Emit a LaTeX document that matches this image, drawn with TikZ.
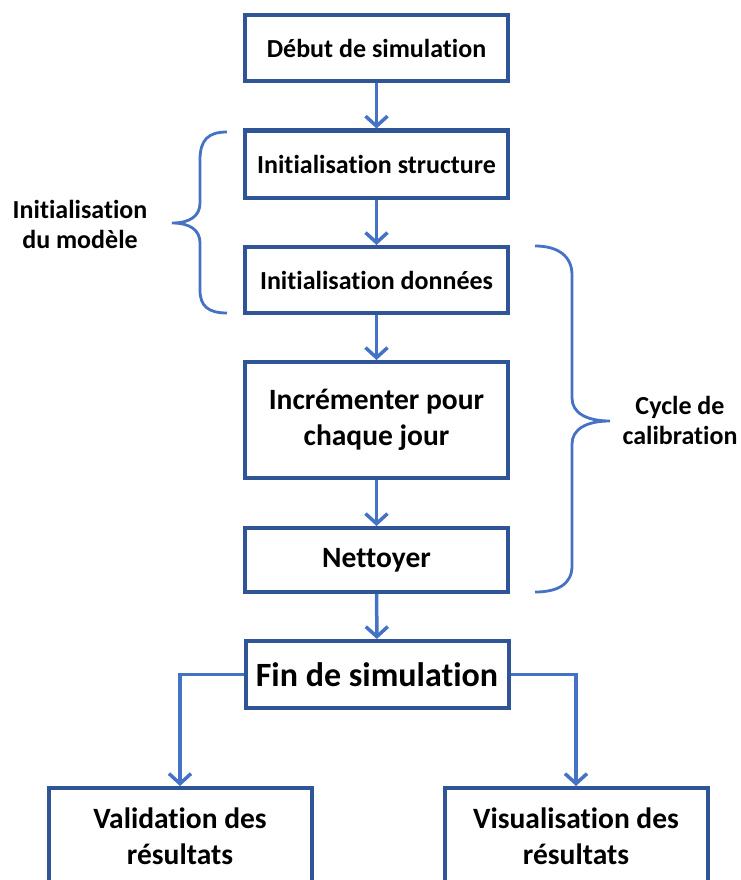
\documentclass[tikz,border=0pt]{standalone}
\usepackage{fontspec}
\setmainfont[Ligatures=NoCommon]{Carlito}
\usetikzlibrary{arrows.meta}
\definecolor{boxblue}{HTML}{2F5597}
\definecolor{linkblue}{HTML}{4472C4}
\tikzset{
  stepbox/.style={draw=boxblue, line width=4pt, fill=white, minimum width=263pt, inner sep=2pt, align=center, font=\bfseries\fontsize{26}{34}\selectfont},
  bigtext/.style={font=\bfseries\fontsize{29.5}{36}\selectfont},
  link/.style={draw=linkblue, line width=3.5pt, -{Straight Barb[length=10pt,width=22pt,line width=3.5pt]}},
  bracepath/.style={draw=linkblue, line width=2.8pt},
  sidelabel/.style={align=center, font=\bfseries\fontsize{26}{30}\selectfont}
}
\begin{document}
\begin{tikzpicture}[x=1pt,y=-1pt]
\useasboundingbox (0,0) rectangle (740,880);
\node[stepbox, minimum height=66pt] (deb) at (376.5,48.5) {Début de simulation};
\node[stepbox, minimum height=67pt] (ist) at (376.5,164) {Initialisation structure};
\node[stepbox, minimum height=66pt] (ido) at (376.5,280) {Initialisation données};
\node[stepbox, bigtext, minimum height=116pt] (inc) at (376.5,420) {Incrémenter pour\\chaque jour};
\node[stepbox, bigtext, minimum height=64pt] (net) at (376.5,560) {Nettoyer};
\node[stepbox, minimum height=67pt, font=\bfseries\fontsize{34}{40}\selectfont] (fin) at (377,674.5) {Fin de simulation};
\node[stepbox, bigtext, minimum height=96pt] (val) at (180,836) {Validation des\\résultats};
\node[stepbox, bigtext, minimum height=96pt] (vis) at (576,836) {Visualisation des\\résultats};

\draw[link] (deb) -- (ist);
\draw[link] (ist) -- (ido);
\draw[link] (ido) -- (inc);
\draw[link] (inc) -- (net);
\draw[link] (net) -- (fin);
\draw[link] (fin.west) -| (val.north);
\draw[link] (fin.east) -| (vis.north);

\draw[bracepath] (227,132) .. controls (208,132) and (200,140) .. (200,160)
  -- (200,203) .. controls (200,216) and (190,223) .. (172,223)
  .. controls (190,223) and (200,230) .. (200,243)
  -- (200,290) .. controls (200,306) and (208,313) .. (227,313);
\draw[bracepath] (535,246) .. controls (558,246) and (572,256) .. (572,275)
  -- (572,398) .. controls (572,412) and (585,421) .. (610,421)
  .. controls (585,421) and (572,430) .. (572,444)
  -- (572,566) .. controls (572,584) and (558,592) .. (535,592);

\node[sidelabel] (lmod) at (80,224) {Initialisation\\du modèle};
\node[sidelabel] (lcyc) at (680,420) {Cycle de\\calibration};
\end{tikzpicture}
\end{document}
